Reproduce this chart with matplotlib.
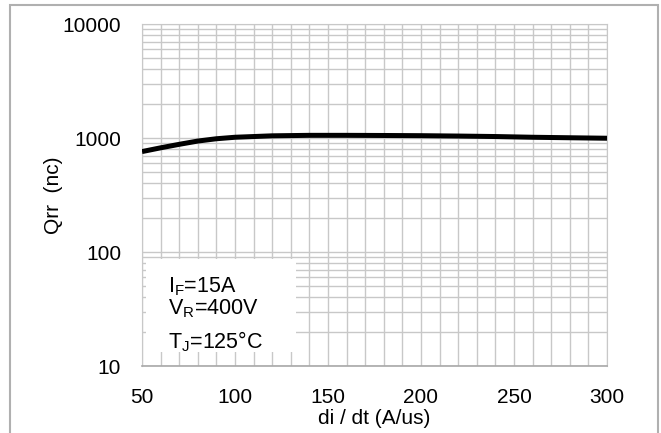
import matplotlib
matplotlib.use("Agg")
import matplotlib.pyplot as plt
from matplotlib.patches import Rectangle
from matplotlib.ticker import FixedLocator, NullFormatter

plt.rcParams["font.family"] = ["Liberation Sans", "DejaVu Sans"]

# curve
di_dt = [50, 60, 70, 80, 90, 100, 120, 140, 160, 180, 200, 220, 240, 260, 280, 300]
qrr = [760, 820, 880, 940, 985, 1015, 1045, 1055, 1055, 1052, 1048, 1040, 1030, 1015, 1005, 995]

x_ticks = [50, 100, 150, 200, 250, 300]
y_ticks = [10, 100, 1000, 10000]
conditions = ["I$_\\mathregular{F}$=15A", "V$_\\mathregular{R}$=400V", "T$_\\mathregular{J}$=125\u00b0C"]

W, H = 661, 433
fig = plt.figure(figsize=(W / 100, H / 100), dpi=100)
ax = fig.add_axes([142 / W, (H - 366) / H, 465 / W, 342 / H])

# outer frame
fig.patches.append(Rectangle((10 / W, -0.05), 648 / W, 1.05 - 5 / H, transform=fig.transFigure,
                             fill=False, edgecolor="#b0b0b0", linewidth=1.5))

ax.set_yscale("log")
ax.set_xlim(50, 300)
ax.set_ylim(10, 10000)

ax.xaxis.set_minor_locator(FixedLocator(range(50, 301, 10)))
ax.yaxis.set_major_locator(FixedLocator(y_ticks))
ax.yaxis.set_minor_locator(FixedLocator([m * d for d in (10, 100, 1000) for m in range(2, 10)]))
ax.yaxis.set_minor_formatter(NullFormatter())
ax.set_xticks(x_ticks)
ax.set_yticklabels([str(v) for v in y_ticks])
ax.grid(which="both", color="#c8c8c8", linewidth=1.0)
ax.set_axisbelow(True)
ax.tick_params(which="both", length=0, labelsize=15)
ax.tick_params(axis="x", pad=16)
ax.tick_params(axis="y", pad=15)

for side in ("top", "right", "left"):
    ax.spines[side].set_color("#c8c8c8")
ax.spines["bottom"].set_color("#a8a8a8")
ax.spines["bottom"].set_linewidth(1.2)

# white box behind the test conditions
ax.add_patch(Rectangle((52, 13.3), 81, 87 - 13.3, facecolor="white", edgecolor="none", zorder=1.5))

ax.plot(di_dt, qrr, color="black", linewidth=3.6, solid_capstyle="butt", zorder=3)

ax.text(64, 50, conditions[0], fontsize=15.5, va="center", zorder=4)
ax.text(64, 31.6, conditions[1], fontsize=15.5, va="center", zorder=4)
ax.text(64, 16.3, conditions[2], fontsize=15.5, va="center", zorder=4)

ax.set_xlabel("di / dt (A/us)", fontsize=15, labelpad=1)
ax.set_ylabel("Qrr  (nc)", fontsize=15)
ax.yaxis.set_label_coords(-0.17, 0.5)

fig.savefig("out.png", dpi=100)
